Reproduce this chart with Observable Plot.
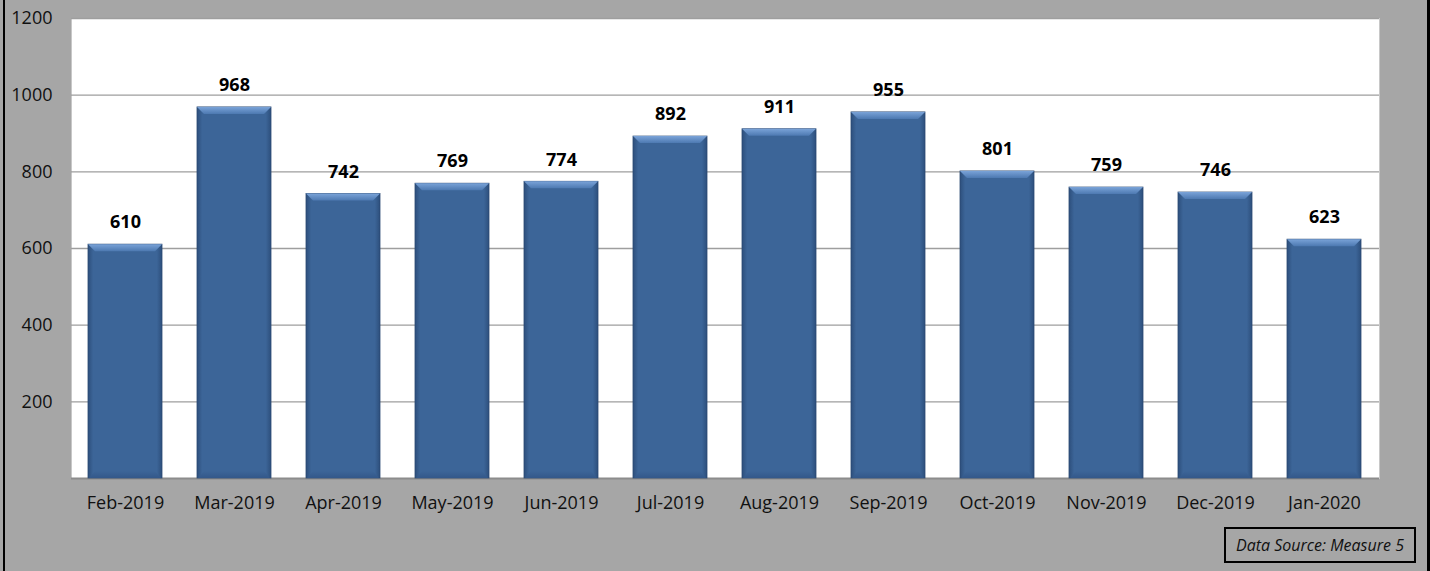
<!DOCTYPE html>
<html>
<head>
<meta charset="utf-8">
<script src="https://cdn.jsdelivr.net/npm/d3@7"></script>
<script src="https://cdn.jsdelivr.net/npm/@observablehq/plot@0.6"></script>
<style>
  html, body { margin: 0; padding: 0; background: #a6a6a6; }
  #wrap { position: relative; width: 1430px; height: 571px; background: #a6a6a6; overflow: hidden; }
  #wrap .bl { position: absolute; left: 3px; top: 0; width: 2px; height: 571px; background: #000; }
  #wrap .br { position: absolute; right: 0; top: 0; width: 3px; height: 571px; background: #000; }
  #src { position: absolute; left: 1224px; top: 527px; width: 188px; height: 32px; border: 2px solid #000;
         font-family: "Open Sans", sans-serif; font-style: italic; font-size: 16px; color: #111;
         display: flex; align-items: center; justify-content: center; box-sizing: content-box; white-space: nowrap; }
  #chart { position: absolute; left: 0; top: 0; }
</style>
</head>
<body>
<div id="wrap">
  <div id="chart"></div>
  <div class="bl"></div>
  <div class="br"></div>
  <div id="src">Data Source: Measure 5</div>
</div>
<script>
const months = ["Feb-2019","Mar-2019","Apr-2019","May-2019","Jun-2019","Jul-2019","Aug-2019","Sep-2019","Oct-2019","Nov-2019","Dec-2019","Jan-2020"];
const values = [610, 968, 742, 769, 774, 892, 911, 955, 801, 759, 746, 623];
const yTicks = [200, 400, 600, 800, 1000, 1200];

const data = months.map((m, i) => ({month: m, value: values[i]}));

const chart = Plot.plot({
  width: 1430,
  height: 571,
  marginLeft: 71,
  marginRight: 51,
  marginTop: 18,
  marginBottom: 93,
  style: {background: "transparent", fontFamily: "'Open Sans', sans-serif", fontSize: "18px", color: "#111"},
  x: {domain: months, paddingInner: 0.32, paddingOuter: 0.16, label: null, tickSize: 0, tickPadding: 18},
  y: {domain: [0, 1200], ticks: yTicks, tickFormat: "d", label: null, tickSize: 0, tickPadding: 19},
  marks: [
    Plot.frame({fill: "#fff", stroke: "#c8c8c8"}),
    Plot.gridY(yTicks, {stroke: "#9e9e9e", strokeOpacity: 1, strokeWidth: 1.3}),
    Plot.ruleY([0], {stroke: "#8c8c8c", strokeWidth: 2}),
    Plot.barY(data, {x: "month", y: "value", fill: "url(#barGrad)", stroke: "#2c4a73", strokeWidth: 0.8, className: "bars"}),
    Plot.text(data, {x: "month", y: "value", text: d => String(d.value), dy: -22, fontWeight: "bold", fontSize: 18, fill: "#000"})
  ]
});

document.getElementById("chart").appendChild(chart);

// gradient defs and bevel effect on rendered bars
const svg = d3.select(chart);
const defs = svg.insert("defs", ":first-child");
const g1 = defs.append("linearGradient").attr("id", "barGrad").attr("x1", "0").attr("x2", "1").attr("y1", "0").attr("y2", "0");
g1.append("stop").attr("offset", "0").attr("stop-color", "#2d4f7c");
g1.append("stop").attr("offset", "0.07").attr("stop-color", "#3c6598");
g1.append("stop").attr("offset", "0.93").attr("stop-color", "#3c6598");
g1.append("stop").attr("offset", "1").attr("stop-color", "#2d4f7c");
const g2 = defs.append("linearGradient").attr("id", "topGrad").attr("x1", "0").attr("x2", "0").attr("y1", "0").attr("y2", "1");
g2.append("stop").attr("offset", "0").attr("stop-color", "#7aa3d8");
g2.append("stop").attr("offset", "1").attr("stop-color", "#4d79b1");
const g3 = defs.append("linearGradient").attr("id", "botGrad").attr("x1", "0").attr("x2", "0").attr("y1", "0").attr("y2", "1");
g3.append("stop").attr("offset", "0").attr("stop-color", "#3c6598");
g3.append("stop").attr("offset", "1").attr("stop-color", "#33588a");

const barGroup = svg.select("g.bars");
barGroup.selectAll("rect").each(function() {
  const r = d3.select(this);
  const x = +r.attr("x"), y = +r.attr("y"), w = +r.attr("width"), h = +r.attr("height");
  const b = 7;
  barGroup.append("polygon")
    .attr("points", `${x},${y} ${x + w},${y} ${x + w - b},${y + b} ${x + b},${y + b}`)
    .attr("fill", "url(#topGrad)")
    .attr("stroke", "none");
  barGroup.append("polygon")
    .attr("points", `${x + 1},${y + h} ${x + w - 1},${y + h} ${x + w - b},${y + h - b} ${x + b},${y + h - b}`)
    .attr("fill", "url(#botGrad)")
    .attr("stroke", "none");
});
</script>
</body>
</html>
